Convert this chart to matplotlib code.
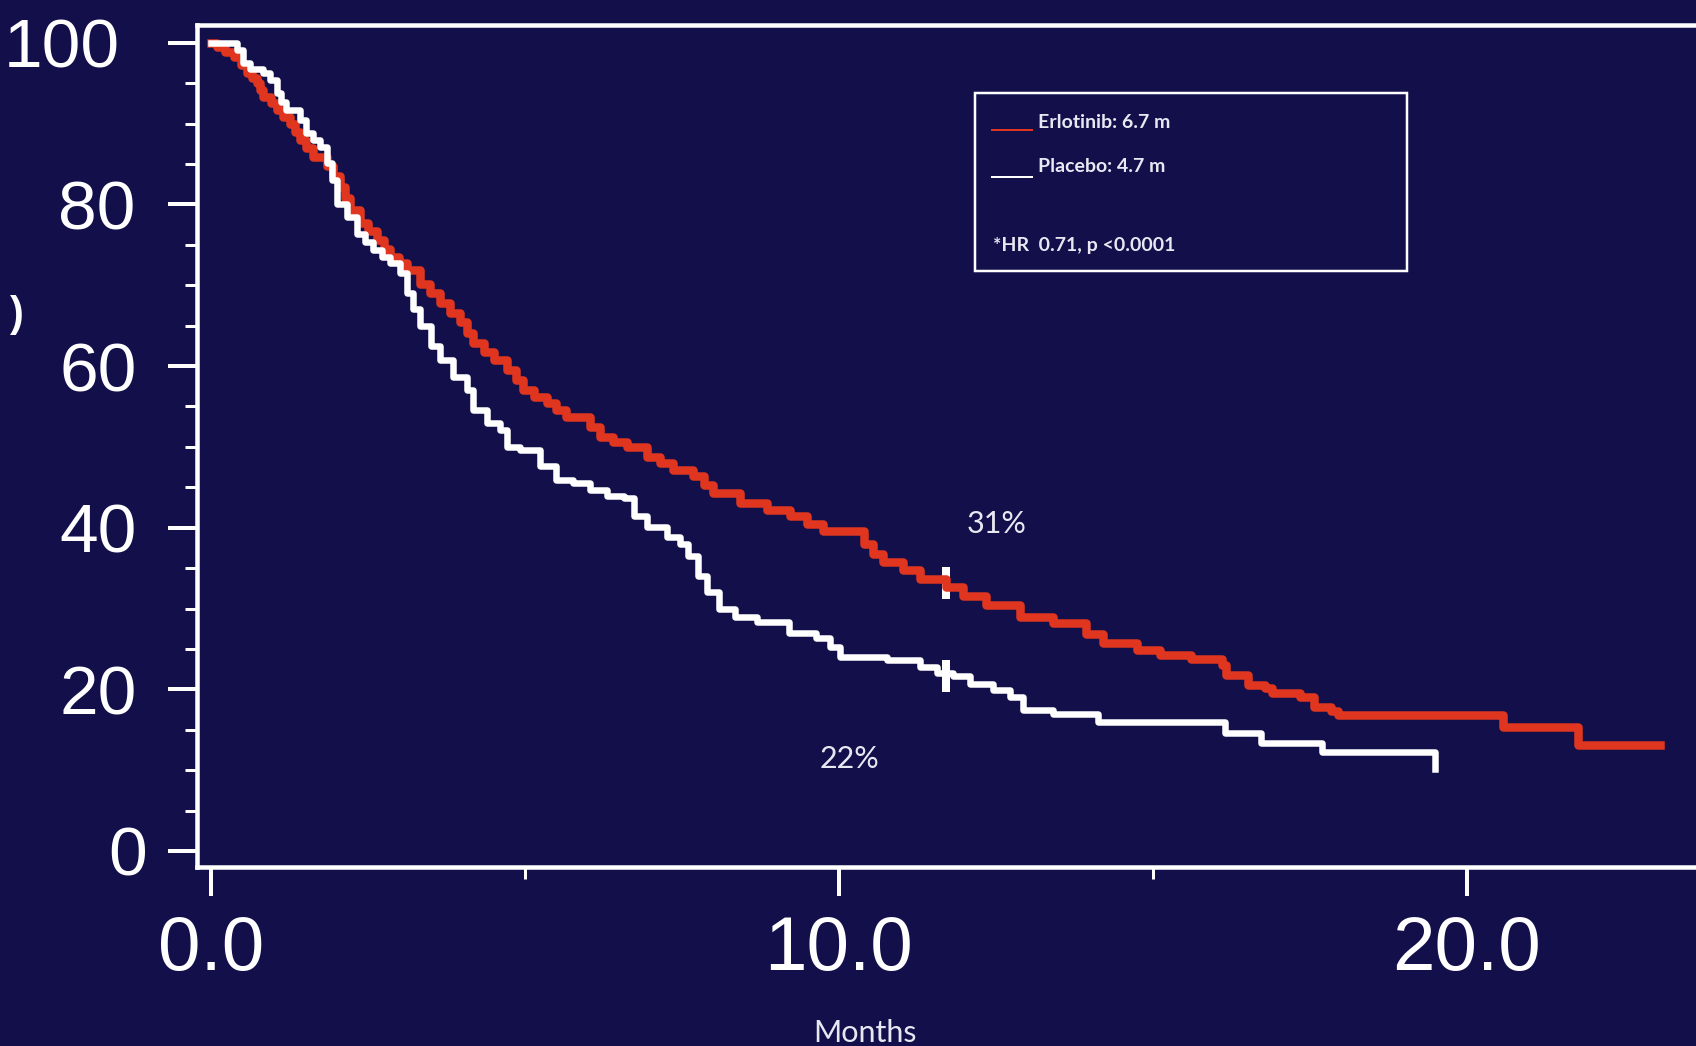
import matplotlib
matplotlib.use("Agg")
import matplotlib.pyplot as plt
from matplotlib.patches import Rectangle
from matplotlib.lines import Line2D
from matplotlib.transforms import blended_transform_factory

# ---- data -------------------------------------------------------------
erlotinib_months = [0.0, 0.09, 0.22, 0.36, 0.47, 0.57, 0.66, 0.73, 0.78, 0.83,
                    0.95, 1.05, 1.15, 1.26, 1.34, 1.42, 1.52, 1.63, 1.84, 1.95,
                    2.05, 2.13, 2.21, 2.37, 2.50, 2.64, 2.75, 2.85, 3.00, 3.12,
                    3.33, 3.48, 3.65, 3.80, 3.96, 4.07, 4.18, 4.34, 4.50, 4.71,
                    4.85, 4.97, 5.15, 5.35, 5.50, 5.66, 6.04, 6.19, 6.40, 6.62,
                    6.94, 7.15, 7.36, 7.68, 7.85, 8.00, 8.42, 8.85, 9.22, 9.49,
                    9.75, 10.40, 10.55, 10.70, 11.02, 11.29, 11.71, 11.98, 12.35, 12.88,
                    13.41, 13.94, 14.21, 14.74, 15.12, 15.60, 16.10, 16.17, 16.51, 16.79,
                    16.90, 17.34, 17.56, 17.84, 17.95, 20.57, 21.77, 23.07]
erlotinib_pct = [100.0, 99.5, 98.9, 98.3, 97.2, 96.2, 95.6, 95.0, 94.2, 93.3,
                 92.5, 91.7, 90.8, 90.0, 89.0, 88.0, 87.0, 85.9, 84.7, 83.5,
                 82.2, 80.8, 79.3, 77.7, 76.7, 75.6, 74.5, 73.5, 72.7, 71.9,
                 70.2, 69.0, 67.8, 66.6, 65.5, 64.1, 62.8, 61.7, 60.7, 59.5,
                 58.3, 57.0, 56.2, 55.4, 54.6, 53.7, 52.5, 51.2, 50.6, 50.0,
                 48.7, 48.0, 47.2, 46.4, 45.3, 44.3, 43.0, 42.2, 41.4, 40.5,
                 39.6, 38.0, 36.8, 35.8, 34.8, 33.7, 32.7, 31.5, 30.4, 29.0,
                 28.2, 26.9, 25.7, 24.9, 24.3, 23.8, 23.0, 21.8, 20.5, 20.2,
                 19.5, 19.0, 17.8, 17.3, 16.8, 15.3, 13.1, 13.1]

placebo_months = [0.0, 0.41, 0.51, 0.62, 0.83, 0.94, 1.05, 1.12, 1.20, 1.42,
                  1.52, 1.63, 1.74, 1.84, 1.92, 2.00, 2.16, 2.32, 2.45, 2.58,
                  2.72, 2.85, 3.01, 3.12, 3.22, 3.33, 3.50, 3.65, 3.86, 4.07,
                  4.18, 4.39, 4.60, 4.71, 4.92, 5.24, 5.50, 5.77, 6.04, 6.30,
                  6.57, 6.73, 6.94, 7.26, 7.47, 7.60, 7.75, 7.90, 8.09, 8.35,
                  8.70, 9.21, 9.64, 9.86, 10.02, 10.76, 11.29, 11.56, 11.82, 12.08,
                  12.46, 12.72, 12.93, 13.41, 14.12, 16.15, 16.73, 17.70, 19.49]
placebo_pct = [100.0, 99.1, 97.5, 96.7, 96.2, 95.4, 93.8, 92.7, 91.7, 90.5,
               88.8, 88.0, 87.1, 85.1, 83.0, 80.1, 78.5, 76.4, 75.4, 74.4,
               73.5, 72.7, 71.5, 69.0, 67.0, 64.9, 62.5, 60.8, 58.7, 57.0,
               54.6, 52.9, 52.1, 50.0, 49.6, 47.6, 45.9, 45.5, 44.7, 43.9,
               43.7, 41.4, 40.1, 38.9, 38.0, 36.5, 34.0, 32.0, 30.0, 29.0,
               28.3, 27.0, 26.3, 25.3, 24.0, 23.6, 22.8, 22.0, 21.6, 20.7,
               19.9, 19.1, 17.4, 17.0, 15.9, 14.6, 13.4, 12.2, 10.2]

landmark_month = 11.7
landmark_pct = [33.2, 21.6]          # Erlotinib, Placebo at the landmark
landmark_labels = ["31%", "22%"]

x_ticks = [0, 10, 20]
x_tick_labels = ["0.0", "10.0", "20.0"]
y_ticks = [0, 20, 40, 60, 80, 100]
y_tick_labels = ["0", "20", "40", "60", "80", "100"]

legend_labels = ["Erlotinib: 6.7 m", "Placebo: 4.7 m"]
stats_label = "*HR  0.71, p <0.0001"
x_label = "Months"

# ---- style --------------------------------------------------------------
BG = "#120f4a"
RED = "#e0361f"
WHITE = "#ffffff"
SOFT = "#e8e8f2"
NUM_FONT = ["Liberation Sans", "DejaVu Sans"]
TXT_FONT = ["Lato", "DejaVu Sans"]

W, H = 1696, 1046
fig = plt.figure(figsize=(W / 100, H / 100), dpi=100, facecolor=BG)
px = 72 / 100  # points per pixel


def fx(p):
    return p / W


def fy(p):
    return 1 - p / H


ax = fig.add_axes([fx(197), fy(867), (W - 197) / W, (867 - 25) / H])
ax.set_facecolor(BG)
ax.set_xlim(-0.223, 23.65)
ax.set_ylim(-1.98, 102.2)

# survival curves
ax.step(erlotinib_months, erlotinib_pct, where="post", color=RED,
        lw=8.5 * px, zorder=3, solid_joinstyle="round")
ax.step(placebo_months, placebo_pct, where="post", color=WHITE,
        lw=6.5 * px, zorder=4, solid_joinstyle="round")

# landmark marks
ax.plot([landmark_month] * 2, landmark_pct, ls="none", marker="|",
        ms=32 * px, mew=8 * px, color=WHITE, zorder=2)

# spines and ticks
for side in ("left", "bottom", "top"):
    ax.spines[side].set_color(WHITE)
    ax.spines[side].set_linewidth(4.5 * px)
ax.spines["right"].set_visible(False)

ax.set_xticks(x_ticks)
ax.set_xticks([5, 15], minor=True)
ax.set_yticks(y_ticks)
ax.set_yticks([v for v in range(5, 100, 5) if v % 20], minor=True)
ax.tick_params(which="major", direction="out", length=29 * px, width=4 * px,
               color=WHITE, labelleft=False, labelbottom=False)
ax.tick_params(which="minor", direction="out", length=12 * px, width=3 * px,
               color=WHITE)

# tick labels
ytrans = blended_transform_factory(fig.transFigure, ax.transData)
y_right_edges = [147, 137, 137, 137, 135, 120]
for val, lab, xr in zip(y_ticks, y_tick_labels, y_right_edges):
    ax.text(fx(xr), val, lab, transform=ytrans, ha="right", va="center_baseline",
            fontsize=50, family=NUM_FONT, color=WHITE)

xtrans = blended_transform_factory(ax.transData, fig.transFigure)
for val, lab in zip(x_ticks, x_tick_labels):
    ax.text(val, fy(970), lab, transform=xtrans, ha="center", va="baseline",
            fontsize=55, family=NUM_FONT, color=WHITE)

fig.text(fx(865), fy(1042), x_label, ha="center", va="baseline",
         fontsize=22, family=TXT_FONT, color=SOFT)
fig.text(fx(10), fy(326), ")", ha="left", va="baseline",
         fontsize=30, weight="bold", family=NUM_FONT, color=WHITE)

# landmark annotations
fig.text(fx(967), fy(533), landmark_labels[0], ha="left", va="baseline",
         fontsize=22, family=TXT_FONT, color=SOFT)
fig.text(fx(820), fy(768), landmark_labels[1], ha="left", va="baseline",
         fontsize=22, family=TXT_FONT, color=SOFT)

# legend box
fig.patches.append(Rectangle((fx(975), fy(271)), (1407 - 975) / W, (271 - 93) / H,
                             transform=fig.transFigure, fill=False,
                             ec=WHITE, lw=2.5 * px))
for lab, col, base, line_y in zip(legend_labels, [RED, WHITE], [128, 172], [130, 177]):
    fig.lines.append(Line2D([fx(992), fx(1032)], [fy(line_y)] * 2,
                            transform=fig.transFigure, color=col, lw=2 * px))
    fig.text(fx(1038), fy(base), lab, ha="left", va="baseline", fontsize=14,
             weight="bold", family=TXT_FONT, color=SOFT)
fig.text(fx(993), fy(251), stats_label, ha="left", va="baseline", fontsize=14,
         weight="bold", family=TXT_FONT, color=SOFT)

fig.savefig("out.png", dpi=100, facecolor=BG)
